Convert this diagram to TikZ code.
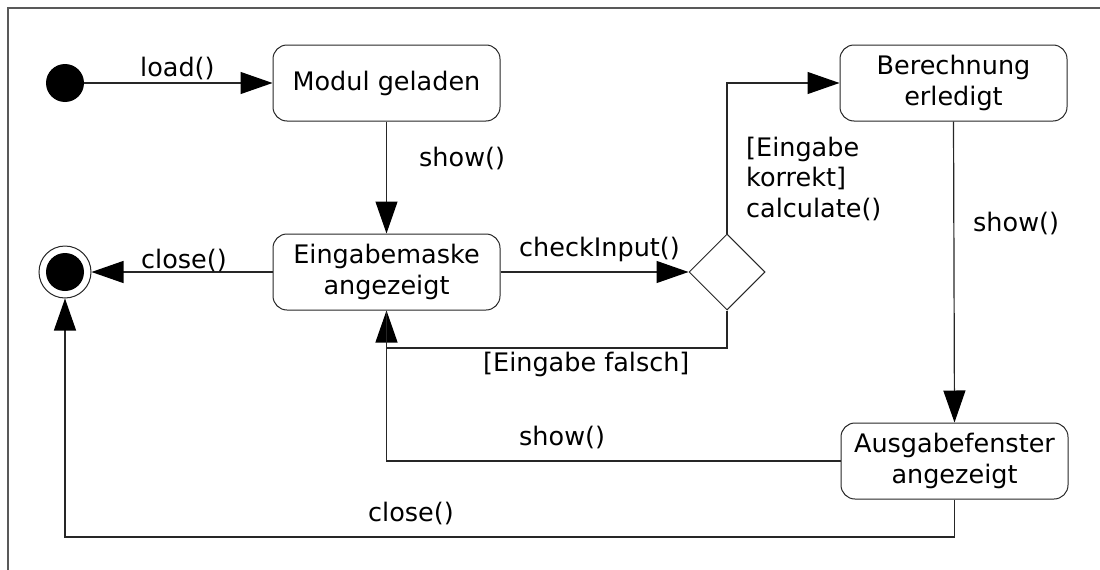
\documentclass[tikz,border=0pt]{standalone}
\usepackage{fontspec}
\setmainfont{DejaVu Sans}
\usetikzlibrary{arrows.meta,shapes.geometric}
\begin{document}
\begin{tikzpicture}[x=1pt,y=-1pt,
  font=\fontsize{25.5}{30.5}\selectfont,
  statebox/.style={draw=black!85,line width=1pt,rounded corners=14pt,minimum width=227pt,minimum height=76pt,inner sep=0pt,align=center},
  conn/.style={draw=black!85,line width=1.2pt},
  arr/.style={conn,-{Triangle[length=32pt,width=22pt,color=black]}},
  lbl/.style={inner sep=0pt,anchor=base west},
  choice/.style={draw=black!85,line width=1pt,shape=diamond,minimum width=76pt,minimum height=76pt,inner sep=0pt}]
\useasboundingbox (0,0) rectangle (1100,570);
% frame
\draw[black!65,line width=1.2pt] (8,570) -- (8,8) -- (1100,8);
% nodes
\node[circle,fill=black,minimum size=38pt,inner sep=0pt] (init) at (65,83) {};
\node[circle,draw=black!85,line width=1pt,minimum size=52pt,inner sep=0pt] (final) at (65,272) {};
\fill[black] (final.center) circle[radius=19pt];
\node[statebox] (modul) at (386.5,83) {Modul geladen};
\node[statebox] (eing) at (386.5,272) {Eingabemaske\\angezeigt};
\node[choice] (dia) at (727,272) {};
\node[statebox] (ber) at (953.5,83) {Berechnung\\erledigt};
\node[statebox] (aus) at (954.5,461) {Ausgabefenster\\angezeigt};
\coordinate (c1) at (560,348);
\coordinate (c2) at (500,537);
% connectors
\draw[arr] (init) -- (modul);
\draw[arr] (modul) -- (eing);
\draw[arr] (eing) -- (final);
\draw[arr] (eing) -- (dia);
\draw[arr] (dia.north) |- (ber.west);
\draw[arr] (dia.south) |- (c1) -| (eing.south);
\draw[arr] (ber.south) -- (aus.north);
\draw[conn] (aus.west) -| (eing.south);
\draw[arr] (aus.south) |- (c2) -| (final.south);
% labels
\node[lbl] (lload) at (140,76) {load()};
\node[lbl] (lclose1) at (141,268) {close()};
\node[lbl] (lshow1) at (419,166) {show()};
\node[lbl] (lcheck) at (519,256) {checkInput()};
\node[inner sep=0pt,anchor=west,align=left] (lguard) at (746,178.5) {[Eingabe\\korrekt]\\calculate()};
\node[lbl] (lshow2) at (973,231) {show()};
\node[lbl] (lfalse) at (483,371) {[Eingabe falsch]};
\node[lbl] (lshow3) at (519,445) {show()};
\node[lbl] (lclose2) at (368,521) {close()};
\end{tikzpicture}
\end{document}
